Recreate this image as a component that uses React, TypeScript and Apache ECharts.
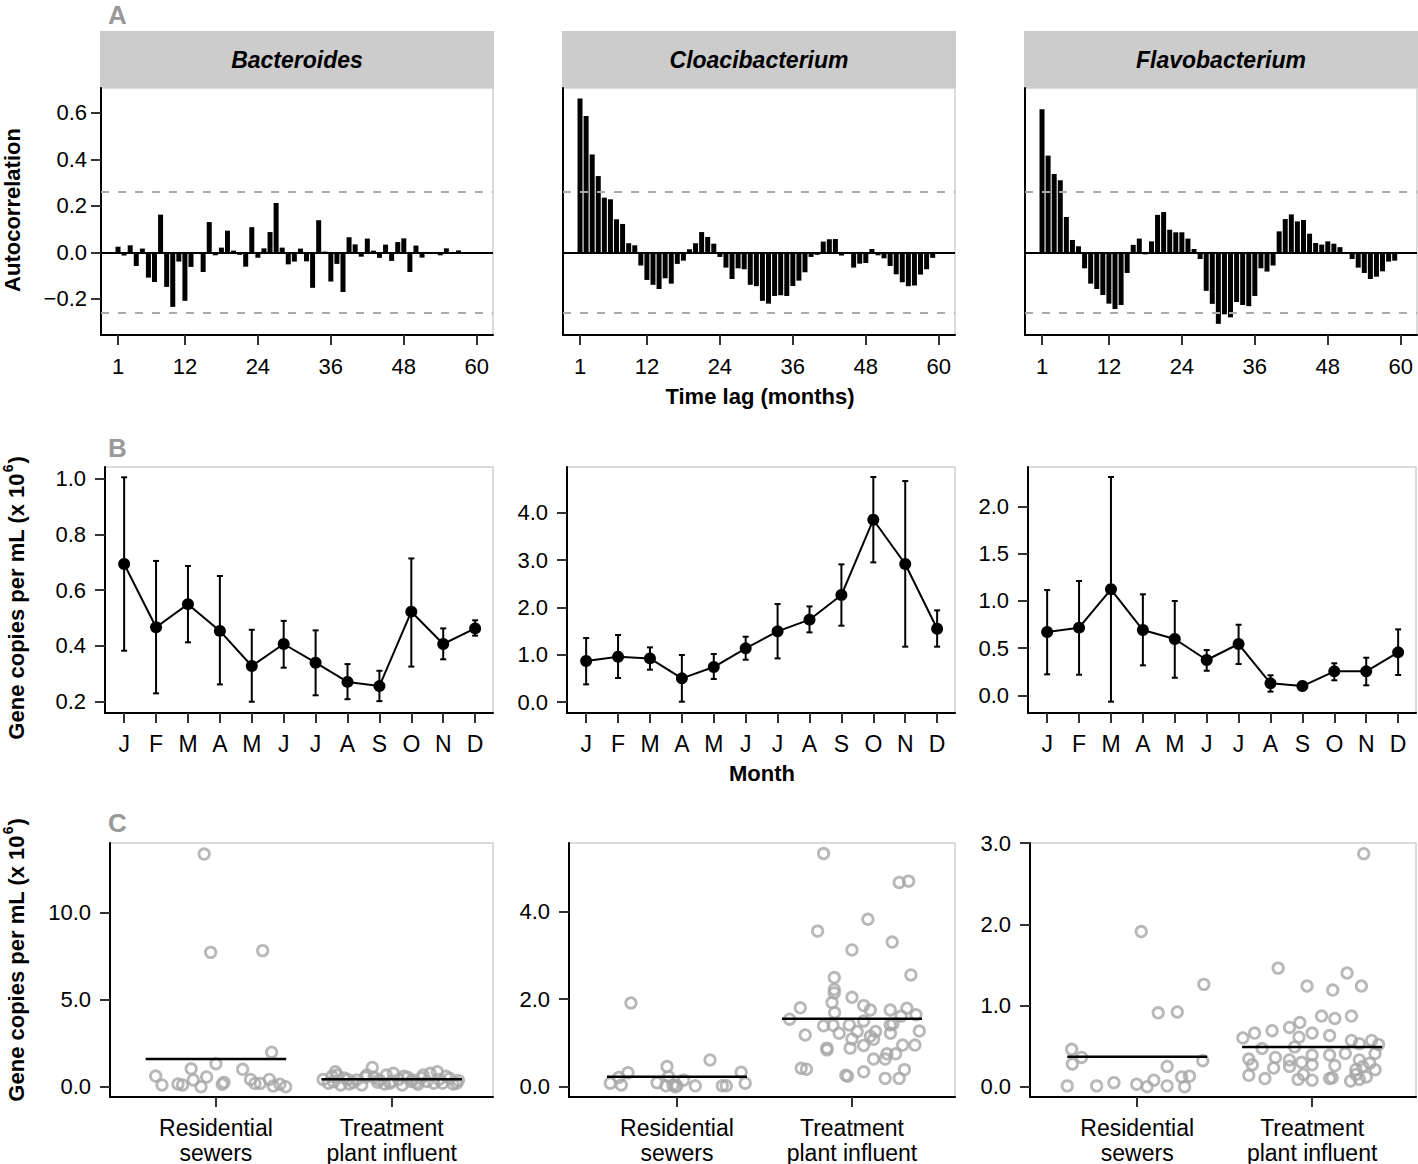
import React, { useEffect, useRef } from 'react';
import * as echarts from 'echarts';

const FONT = "'Liberation Sans', Arial, Helvetica, sans-serif";

// ---------- Data ----------
const TAXA = ['Bacteroides', 'Cloacibacterium', 'Flavobacterium'];

const ACF_BACTEROIDES = [
  0.024, -0.014, 0.03, -0.059, 0.016, -0.109, -0.128, 0.162, -0.149, -0.235,
  -0.04, -0.209, -0.063, 0.0, -0.085, 0.13, -0.013, 0.02, 0.093, 0.007,
  -0.011, -0.062, 0.108, -0.024, 0.017, 0.087, 0.212, 0.02, -0.052, -0.04,
  0.016, -0.039, -0.153, 0.138, 0.003, -0.126, -0.05, -0.171, 0.065, 0.034,
  -0.019, 0.059, 0.007, -0.024, 0.033, -0.037, 0.044, 0.06, -0.085, 0.029,
  -0.023, -0.006, -0.003, -0.013, 0.017, -0.003, 0.008, -0.007, 0.001,
];
const ACF_CLOACIBACTERIUM = [
  0.662, 0.586, 0.421, 0.328, 0.235, 0.228, 0.142, 0.122, 0.039, 0.03,
  -0.057, -0.119, -0.14, -0.158, -0.112, -0.135, -0.05, -0.036, 0.013, 0.039,
  0.087, 0.066, 0.037, -0.02, -0.066, -0.115, -0.069, -0.073, -0.14, -0.146,
  -0.209, -0.221, -0.188, -0.185, -0.188, -0.145, -0.122, -0.086, -0.02, -0.011,
  0.046, 0.056, 0.057, -0.014, -0.007, -0.066, -0.049, -0.046, 0.014, -0.013,
  -0.026, -0.059, -0.095, -0.129, -0.146, -0.143, -0.096, -0.073, -0.024,
];
const ACF_FLAVOBACTERIUM = [
  0.616, 0.416, 0.337, 0.31, 0.152, 0.053, 0.026, -0.069, -0.135, -0.158,
  -0.184, -0.221, -0.244, -0.227, -0.089, 0.032, 0.059, -0.009, 0.047, 0.161,
  0.173, 0.097, 0.086, 0.086, 0.059, 0.014, -0.029, -0.166, -0.222, -0.308,
  -0.267, -0.28, -0.214, -0.227, -0.232, -0.188, -0.069, -0.083, -0.057, 0.09,
  0.143, 0.163, 0.133, 0.139, 0.08, 0.04, 0.033, 0.047, 0.037, 0.022,
  -0.003, -0.029, -0.066, -0.089, -0.115, -0.105, -0.082, -0.04, -0.036,
];
const ACF_CI = 0.26;
const LAG_TICKS = [1, 12, 24, 36, 48, 60];
const ACF_TICKS = [-0.2, 0, 0.2, 0.4, 0.6];

const MONTHS = ['J', 'F', 'M', 'A', 'M', 'J', 'J', 'A', 'S', 'O', 'N', 'D'];
const MEAN_BACTEROIDES = [0.694, 0.467, 0.55, 0.454, 0.328, 0.407, 0.34, 0.271, 0.256, 0.523, 0.407, 0.463];
const LOW_BACTEROIDES = [0.383, 0.23, 0.413, 0.262, 0.2, 0.322, 0.223, 0.209, 0.202, 0.326, 0.352, 0.437];
const HIGH_BACTEROIDES = [1.005, 0.705, 0.687, 0.651, 0.458, 0.49, 0.456, 0.335, 0.311, 0.714, 0.463, 0.492];
const MEAN_CLOACI = [0.866, 0.957, 0.922, 0.5, 0.739, 1.134, 1.493, 1.74, 2.26, 3.852, 2.916, 1.549];
const LOW_CLOACI = [0.373, 0.507, 0.683, 0.007, 0.486, 0.894, 0.922, 1.472, 1.613, 2.951, 1.169, 1.169];
const HIGH_CLOACI = [1.352, 1.416, 1.155, 0.993, 1.014, 1.38, 2.07, 2.02, 2.909, 4.754, 4.669, 1.937];
const MEAN_FLAVO = [0.67, 0.716, 1.122, 0.691, 0.596, 0.374, 0.543, 0.127, 0.098, 0.254, 0.254, 0.455];
const LOW_FLAVO = [0.222, 0.218, -0.067, 0.317, 0.186, 0.26, 0.331, 0.039, 0.09, 0.159, 0.106, 0.215];
const HIGH_FLAVO = [1.114, 1.21, 2.31, 1.069, 0.998, 0.479, 0.747, 0.212, 0.106, 0.339, 0.398, 0.698];
const B_TICKS = [
  [0.2, 0.4, 0.6, 0.8, 1.0],
  [0, 1, 2, 3, 4],
  [0, 0.5, 1, 1.5, 2],
];

const SOURCES = ['Residential\nsewers', 'Treatment\nplant influent'];
// [jitter offset from category, gene copies per mL x 10^6]
const RES_BACTEROIDES = [
  [-0.067, 13.37], [-0.03, 7.72], [0.266, 7.82], [0.317, 1.98], [0.0, 1.32], [-0.343, 0.61],
  [-0.307, 0.1], [-0.216, 0.16], [-0.19, 0.1], [-0.141, 1.03], [-0.129, 0.39], [-0.085, 0.0],
  [-0.053, 0.56], [0.036, 0.14], [0.046, 0.25], [0.152, 1.0], [0.197, 0.42], [0.222, 0.19],
  [0.252, 0.19], [0.304, 0.42], [0.326, 0.04], [0.364, 0.14], [0.397, 0.0],
];
const TPI_BACTEROIDES = [
  [-0.39, 0.42], [-0.34, 0.6], [-0.32, 0.86], [-0.31, 0.67], [-0.33, 0.29], [-0.29, 0.1],
  [-0.27, 0.5], [-0.25, 0.42], [-0.22, 0.25], [-0.2, 0.39], [-0.17, 0.1], [-0.15, 0.55],
  [-0.14, 0.67], [-0.11, 1.11], [-0.1, 0.54], [-0.08, 0.25], [-0.07, 0.39], [-0.04, 0.15],
  [-0.03, 0.67], [0.0, 0.3], [0.01, 0.77], [-0.01, 0.2], [0.04, 0.42], [0.06, 0.1],
  [0.07, 0.6], [0.09, 0.54], [0.11, 0.3], [0.12, 0.39], [0.15, 0.14], [0.17, 0.5],
  [0.18, 0.67], [0.2, 0.3], [0.22, 0.77], [0.24, 0.2], [0.26, 0.86], [0.27, 0.42],
  [0.29, 0.2], [0.31, 0.6], [0.33, 0.48], [0.35, 0.15], [0.37, 0.2], [0.38, 0.35],
  [-0.36, 0.2], [-0.24, 0.15], [0.14, 0.25],
];
const RES_CLOACI = [
  [-0.263, 1.91], [-0.381, 0.08], [-0.333, 0.21], [-0.318, 0.04], [-0.28, 0.32], [-0.114, 0.09],
  [-0.057, 0.46], [-0.048, 0.23], [-0.063, 0.02], [-0.023, 0.04], [0.0, 0.02], [0.038, 0.15],
  [0.105, 0.02], [0.189, 0.61], [0.259, 0.02], [0.282, 0.02], [0.367, 0.33], [0.39, 0.08],
  [-0.01, 0.0],
];
const TPI_CLOACI = [
  [-0.162, 5.32], [0.27, 4.66], [0.324, 4.69], [0.091, 3.82], [-0.196, 3.55], [0.23, 3.3],
  [0.0, 3.12], [0.337, 2.55], [-0.101, 2.49], [-0.101, 2.22], [-0.101, 2.14], [0.0, 2.04],
  [-0.114, 1.92], [-0.295, 1.8], [0.067, 1.85], [0.105, 1.75], [0.219, 1.75], [0.314, 1.79],
  [-0.099, 1.69], [-0.356, 1.54], [0.366, 1.64], [0.281, 1.61], [-0.162, 1.39], [-0.108, 1.4],
  [-0.015, 1.41], [0.067, 1.5], [0.219, 1.41], [0.234, 1.43], [-0.073, 1.22], [0.03, 1.26],
  [0.135, 1.26], [0.22, 1.22], [0.385, 1.27], [-0.267, 1.18], [0.0, 1.09], [0.105, 1.15],
  [0.124, 1.08], [0.067, 0.94], [-0.01, 0.88], [-0.143, 0.88], [-0.143, 0.84], [0.29, 0.95],
  [0.36, 0.95], [0.2, 0.75], [0.25, 0.75], [0.124, 0.63], [0.19, 0.63], [-0.29, 0.42],
  [-0.26, 0.4], [0.3, 0.39], [0.067, 0.34], [-0.035, 0.26], [-0.025, 0.24], [0.19, 0.19],
  [0.27, 0.19],
];
const RES_FLAVO = [
  [0.023, 1.91], [0.381, 1.26], [0.12, 0.91], [0.229, 0.92], [-0.375, 0.46], [-0.318, 0.36],
  [-0.371, 0.28], [0.375, 0.32], [0.171, 0.25], [0.254, 0.12], [0.299, 0.13], [-0.4, 0.01],
  [-0.232, 0.01], [-0.133, 0.05], [-0.003, 0.03], [0.057, 0.0], [0.095, 0.08], [0.171, 0.01],
  [0.271, 0.0],
];
const TPI_FLAVO = [
  [0.295, 2.87], [-0.194, 1.46], [0.2, 1.4], [-0.029, 1.24], [0.118, 1.19], [0.282, 1.24],
  [0.054, 0.87], [0.13, 0.84], [0.225, 0.87], [-0.129, 0.73], [-0.07, 0.79], [-0.229, 0.69],
  [-0.329, 0.66], [-0.396, 0.6], [-0.075, 0.61], [0.0, 0.66], [0.1, 0.63], [0.225, 0.57],
  [0.27, 0.53], [0.34, 0.57], [0.38, 0.52], [-0.286, 0.47], [-0.1, 0.49], [-0.21, 0.36],
  [0.0, 0.39], [0.1, 0.39], [0.19, 0.41], [0.36, 0.41], [-0.362, 0.34], [-0.13, 0.33],
  [-0.06, 0.3], [0.0, 0.27], [0.13, 0.26], [0.27, 0.33], [0.29, 0.25], [0.33, 0.29],
  [-0.342, 0.27], [-0.22, 0.23], [-0.129, 0.25], [0.25, 0.21], [0.36, 0.21], [-0.362, 0.14],
  [-0.27, 0.1], [-0.08, 0.09], [-0.05, 0.15], [0.0, 0.08], [0.1, 0.1], [0.115, 0.11],
  [0.22, 0.07], [0.27, 0.09], [0.31, 0.12], [0.25, 0.15],
];
const GROUP_MEANS = [
  [1.59, 0.425],
  [0.228, 1.551],
  [0.369, 0.489],
];
const C_TICKS = [
  [0, 5, 10],
  [0, 2, 4],
  [0, 1, 2, 3],
];

// ---------- Layout ----------
const GRIDS = [
  { left: 101, top: 88, width: 392, height: 247 },
  { left: 563, top: 88, width: 392, height: 247 },
  { left: 1025, top: 88, width: 392, height: 247 },
  { left: 105, top: 467, width: 388, height: 246 },
  { left: 567, top: 467, width: 388, height: 246 },
  { left: 1028, top: 467, width: 388, height: 246 },
  { left: 110, top: 843, width: 383, height: 254 },
  { left: 569, top: 843, width: 386, height: 254 },
  { left: 1030, top: 843, width: 386, height: 254 },
];
const X_RANGES = [
  [-1.8, 62.67], [-1.8, 62.67], [-1.8, 62.67],
  [-0.6, 11.56], [-0.6, 11.56], [-0.6, 11.56],
  [0.397, 2.577], [0.383, 2.589], [0.387, 2.594],
];
const Y_RANGES = [
  [-0.356, 0.707], [-0.356, 0.707], [-0.356, 0.707],
  [0.1595, 1.042], [-0.232, 4.966], [-0.187, 2.416],
  [-0.592, 14.006], [-0.235, 5.56], [-0.127, 3.001],
];
const MEAN_HALF_WIDTH = 0.4;

const fmt1 = (v: number) => (v < 0 ? '\u2212' + Math.abs(v).toFixed(1) : v.toFixed(1));

function buildOption() {
  const acf = [ACF_BACTEROIDES, ACF_CLOACIBACTERIUM, ACF_FLAVOBACTERIUM];
  const means = [MEAN_BACTEROIDES, MEAN_CLOACI, MEAN_FLAVO];
  const lows = [LOW_BACTEROIDES, LOW_CLOACI, LOW_FLAVO];
  const highs = [HIGH_BACTEROIDES, HIGH_CLOACI, HIGH_FLAVO];
  const res = [RES_BACTEROIDES, RES_CLOACI, RES_FLAVO];
  const tpi = [TPI_BACTEROIDES, TPI_CLOACI, TPI_FLAVO];

  const grid = GRIDS.map((g) => ({
    ...g,
    show: true,
    borderColor: '#cfcfcf',
    borderWidth: 1.5,
    backgroundColor: 'transparent',
    containLabel: false,
    outerBoundsMode: 'none',
  }));

  const labelBase = { color: '#000', fontFamily: FONT, fontSize: 22 };
  const tickBase = { show: true, length: 10, inside: false, lineStyle: { color: '#333', width: 2 } };
  const lineBase = { show: true, onZero: false, lineStyle: { color: '#000', width: 2 } };

  const xAxis: any[] = [];
  const yAxis: any[] = [];
  for (let i = 0; i < 9; i++) {
    const row = Math.floor(i / 3);
    const col = i % 3;
    let xTicks: number[];
    let xFormatter: any;
    let xLabelSize = 22;
    if (row === 0) {
      xTicks = LAG_TICKS;
      xFormatter = (v: number) => String(v);
    } else if (row === 1) {
      xTicks = MONTHS.map((_, k) => k);
      xFormatter = (v: number) => MONTHS[Math.round(v)] ?? '';
      xLabelSize = 23;
    } else {
      xTicks = [1, 2];
      xFormatter = (v: number) => SOURCES[Math.round(v) - 1] ?? '';
      xLabelSize = 23;
    }
    xAxis.push({
      type: 'value',
      gridIndex: i,
      min: X_RANGES[i][0],
      max: X_RANGES[i][1],
      axisLine: lineBase,
      axisTick: { ...tickBase, customValues: xTicks },
      axisLabel: {
        ...labelBase,
        fontSize: xLabelSize,
        lineHeight: 25,
        margin: row === 0 ? 19 : 18,
        customValues: xTicks,
        formatter: xFormatter,
        showMinLabel: true,
        showMaxLabel: true,
      },
      splitLine: { show: false },
    });

    let yTicks: number[];
    if (row === 0) yTicks = ACF_TICKS;
    else if (row === 1) yTicks = B_TICKS[col];
    else yTicks = C_TICKS[col];
    const showY = !(row === 0 && col > 0);
    yAxis.push({
      type: 'value',
      gridIndex: i,
      min: Y_RANGES[i][0],
      max: Y_RANGES[i][1],
      axisLine: lineBase,
      axisTick: showY ? { ...tickBase, customValues: yTicks } : { show: false },
      axisLabel: showY
        ? { ...labelBase, margin: row === 0 ? 14 : 19, customValues: yTicks, formatter: fmt1 }
        : { show: false },
      splitLine: { show: false },
    });
  }

  const series: any[] = [];
  // Panel A: ACF bars
  for (let c = 0; c < 3; c++) {
    series.push({
      type: 'bar',
      xAxisIndex: c,
      yAxisIndex: c,
      barWidth: 5,
      data: acf[c].map((v, k) => [k + 1, v]),
      itemStyle: { color: '#000' },
      silent: true,
      z: 2,
    });
    series.push({
      type: 'line',
      xAxisIndex: c,
      yAxisIndex: c,
      data: [],
      silent: true,
      z: 4,
      markLine: {
        silent: true,
        symbol: ['none', 'none'],
        label: { show: false },
        data: [
          { yAxis: ACF_CI, lineStyle: { color: '#aaaaaa', width: 2, type: [8, 9] } },
          { yAxis: -ACF_CI, lineStyle: { color: '#aaaaaa', width: 2, type: [8, 9] } },
          { yAxis: 0, lineStyle: { color: '#000', width: 2, type: 'solid' } },
        ],
      },
    });
  }
  // Panel B: monthly means with error bars
  for (let c = 0; c < 3; c++) {
    const idx = 3 + c;
    series.push({
      type: 'custom',
      xAxisIndex: idx,
      yAxisIndex: idx,
      silent: true,
      z: 3,
      data: means[c].map((_, k) => [k, lows[c][k], highs[c][k]]),
      encode: { x: 0, y: [1, 2] },
      renderItem: (params: any, api: any) => {
        const x = api.value(0);
        const pLo = api.coord([x, api.value(1)]);
        const pHi = api.coord([x, api.value(2)]);
        const w = 3;
        const st = { stroke: '#000', lineWidth: 2 };
        return {
          type: 'group',
          children: [
            { type: 'line', shape: { x1: pLo[0], y1: pLo[1], x2: pHi[0], y2: pHi[1] }, style: st },
            { type: 'line', shape: { x1: pLo[0] - w, y1: pLo[1], x2: pLo[0] + w, y2: pLo[1] }, style: st },
            { type: 'line', shape: { x1: pHi[0] - w, y1: pHi[1], x2: pHi[0] + w, y2: pHi[1] }, style: st },
          ],
        };
      },
    });
    series.push({
      type: 'line',
      xAxisIndex: idx,
      yAxisIndex: idx,
      silent: true,
      z: 4,
      data: means[c].map((v, k) => [k, v]),
      symbol: 'circle',
      symbolSize: 12,
      showSymbol: true,
      itemStyle: { color: '#000' },
      lineStyle: { color: '#000', width: 2 },
    });
  }
  // Panel C: jittered points and group means
  for (let c = 0; c < 3; c++) {
    const idx = 6 + c;
    const groups = [res[c], tpi[c]];
    groups.forEach((g, gi) => {
      series.push({
        type: 'scatter',
        xAxisIndex: idx,
        yAxisIndex: idx,
        silent: true,
        z: 2,
        symbol: 'circle',
        symbolSize: 10.5,
        data: g.map(([o, v]) => [gi + 1 + o, v]),
        itemStyle: { color: 'rgba(0,0,0,0)', borderColor: '#a6a6a6', borderWidth: 2.8 },
      });
      const m = GROUP_MEANS[c][gi];
      series.push({
        type: 'line',
        xAxisIndex: idx,
        yAxisIndex: idx,
        silent: true,
        z: 5,
        symbol: 'none',
        data: [
          [gi + 1 - MEAN_HALF_WIDTH, m],
          [gi + 1 + MEAN_HALF_WIDTH, m],
        ],
        lineStyle: { color: '#000', width: 2.5 },
      });
    });
  }

  // Graphic: strips, panel letters, axis titles
  const graphic: any[] = [];
  for (let c = 0; c < 3; c++) {
    const g = GRIDS[c];
    graphic.push({
      type: 'rect',
      shape: { x: g.left - 1, y: 31, width: g.width + 2, height: 57 },
      style: { fill: '#cccccc' },
      silent: true,
    });
    graphic.push({
      type: 'text',
      x: g.left + g.width / 2,
      y: 60,
      silent: true,
      style: {
        text: TAXA[c],
        fill: '#000',
        font: `italic bold 23px ${FONT}`,
        textAlign: 'center',
        textVerticalAlign: 'middle',
      },
    });
  }
  [['A', 15], ['B', 448], ['C', 823]].forEach(([t, y]) => {
    graphic.push({
      type: 'text',
      x: 108,
      y: y as number,
      silent: true,
      style: {
        text: t,
        fill: '#999999',
        font: `bold 26px ${FONT}`,
        textAlign: 'left',
        textVerticalAlign: 'middle',
      },
    });
  });
  graphic.push({
    type: 'text',
    x: 760,
    y: 396,
    silent: true,
    style: { text: 'Time lag (months)', fill: '#000', font: `bold 22px ${FONT}`, textAlign: 'center', textVerticalAlign: 'middle' },
  });
  graphic.push({
    type: 'text',
    x: 762,
    y: 773,
    silent: true,
    style: { text: 'Month', fill: '#000', font: `bold 22px ${FONT}`, textAlign: 'center', textVerticalAlign: 'middle' },
  });
  graphic.push({
    type: 'text',
    x: 12,
    y: 210,
    rotation: Math.PI / 2,
    silent: true,
    style: { text: 'Autocorrelation', fill: '#000', font: `bold 22px ${FONT}`, textAlign: 'center', textVerticalAlign: 'middle' },
  });
  [598, 960].forEach((y) => {
    graphic.push({
      type: 'text',
      x: 14,
      y,
      rotation: Math.PI / 2,
      silent: true,
      style: {
        text: '{n|Gene copies per mL (x 10}{s|6}{n|)}',
        textAlign: 'center',
        textVerticalAlign: 'middle',
        rich: {
          n: { fontFamily: FONT, fontWeight: 'bold', fontSize: 22, fill: '#000', lineHeight: 26, verticalAlign: 'bottom' },
          s: { fontFamily: FONT, fontWeight: 'bold', fontSize: 14, fill: '#000', lineHeight: 26, verticalAlign: 'top', padding: [0, 1, 8, 1] },
        },
      },
    });
  });

  return {
    animation: false,
    backgroundColor: '#ffffff',
    textStyle: { fontFamily: FONT },
    grid,
    xAxis,
    yAxis,
    series,
    graphic,
  };
}

export default function App() {
  const ref = useRef<HTMLDivElement>(null);
  useEffect(() => {
    const chart = echarts.init(ref.current!, null, { renderer: 'svg' });
    chart.setOption(buildOption() as any);
    return () => chart.dispose();
  }, []);
  return (
    <div
      ref={ref}
      style={{ position: 'absolute', left: 0, top: 0, width: 1418, height: 1164, background: '#fff' }}
    />
  );
}
